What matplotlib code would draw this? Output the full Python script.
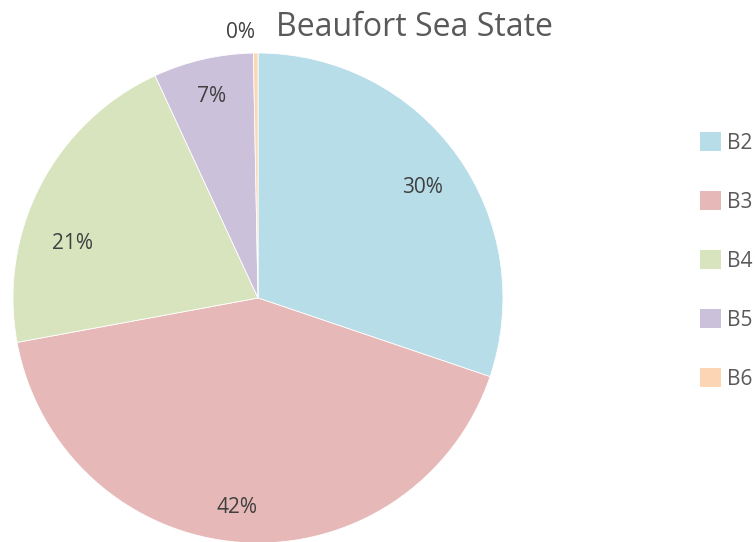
import matplotlib
matplotlib.use("Agg")
import matplotlib.pyplot as plt
from matplotlib.patches import Patch

categories = ["B2", "B3", "B4", "B5", "B6"]
values = [30.2, 41.9, 21.0, 6.6, 0.3]
pct_labels = ["30%", "42%", "21%", "7%", "0%"]
colors = ["#B7DDE8", "#E6B8B7", "#D7E4BD", "#CCC1DA", "#FCD5B5"]
title = "Beaufort Sea State"

# label positions (in units of pie radius)
label_pos = [(0.673, 0.453), (-0.086, -0.857), (-0.759, 0.224), (-0.188, 0.824), (-0.073, 1.082)]

plt.rcParams['font.family'] = ['Open Sans', 'DejaVu Sans']
W, H = 756, 542
fig = plt.figure(figsize=(W/100, H/100), dpi=100)
cx, cy, R = 258, 298, 245
ax = fig.add_axes([(cx-R)/W, (H-cy-R)/H, 2*R/W, 2*R/H])
ax.pie(values, colors=colors, startangle=90, counterclock=False, radius=1,
       wedgeprops=dict(linewidth=0.6, edgecolor="white"))
ax.set_xlim(-1, 1)
ax.set_ylim(-1, 1)
ax.set_aspect('equal')
ax.axis('off')
for (x, y), t in zip(label_pos, pct_labels):
    ax.text(x, y, t, ha='center', va='center', fontsize=15, color='#404040', clip_on=False)

fig.text(414/W, 1-27/H, title, ha='center', va='center', fontsize=23, color='#595959')

handles = [Patch(facecolor=c, edgecolor='none') for c in colors]
leg = fig.legend(handles, categories, loc='upper left', bbox_to_anchor=(692/W, 1-124/H),
                 frameon=False, fontsize=15, labelcolor='#595959',
                 handlelength=1.0, handleheight=1.0, handletextpad=0.3,
                 labelspacing=1.8, borderaxespad=0)
fig.savefig("out.png", dpi=100)
